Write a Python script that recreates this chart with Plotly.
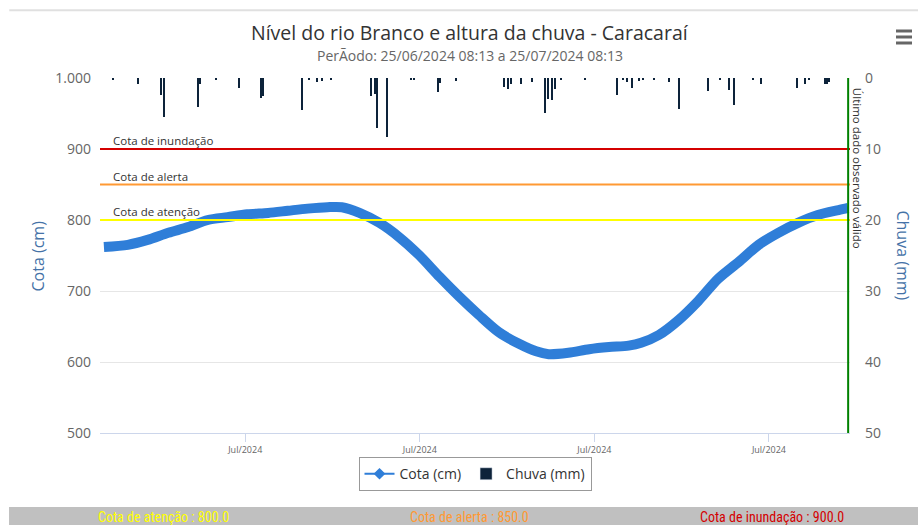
import plotly.graph_objects as go

# ---------------- data ----------------
cota_times = [
    "2024-06-25 12:00", "2024-06-26 11:00", "2024-06-27 06:00", "2024-06-28 02:00",
    "2024-06-28 21:00", "2024-06-29 16:00", "2024-06-30 11:00", "2024-07-01 06:00",
    "2024-07-02 02:00", "2024-07-02 21:00", "2024-07-03 16:00", "2024-07-04 11:00",
    "2024-07-05 01:00", "2024-07-05 18:00", "2024-07-06 13:00", "2024-07-07 08:00",
    "2024-07-08 03:00", "2024-07-08 23:00", "2024-07-09 18:00", "2024-07-10 13:00",
    "2024-07-11 08:00", "2024-07-12 03:00", "2024-07-12 20:00", "2024-07-13 08:00",
    "2024-07-14 03:00", "2024-07-14 23:00", "2024-07-15 18:00", "2024-07-16 13:00",
    "2024-07-17 01:00", "2024-07-17 18:00", "2024-07-18 13:00", "2024-07-19 08:00",
    "2024-07-20 03:00", "2024-07-20 23:00", "2024-07-21 18:00", "2024-07-22 13:00",
    "2024-07-23 08:00", "2024-07-24 03:00", "2024-07-24 23:00", "2024-07-25 08:13",
]
cota_values = [
    762, 765, 772, 782, 790, 800, 804, 808, 810, 813, 816, 818, 818, 810, 796, 776,
    751, 720, 692, 666, 642, 626, 615, 611, 613, 618, 621, 623, 627, 638, 659, 686,
    717, 741, 765, 782, 796, 807, 814, 817,
]

chuva_times = [
    "2024-06-25 21:00", "2024-06-26 21:00", "2024-06-27 19:00", "2024-06-27 22:00",
    "2024-06-29 07:00", "2024-06-29 09:00", "2024-06-30 00:00", "2024-06-30 22:00",
    "2024-07-01 19:00", "2024-07-01 21:00", "2024-07-03 11:00", "2024-07-03 18:00",
    "2024-07-04 01:00", "2024-07-04 06:00", "2024-07-04 15:00", "2024-07-06 05:00",
    "2024-07-06 09:00", "2024-07-06 11:00", "2024-07-06 21:00", "2024-07-07 20:00",
    "2024-07-07 23:00", "2024-07-08 22:00", "2024-07-09 00:00", "2024-07-09 15:00",
    "2024-07-11 13:00", "2024-07-11 17:00", "2024-07-11 20:00", "2024-07-12 06:00",
    "2024-07-12 16:00", "2024-07-13 05:00", "2024-07-13 08:00", "2024-07-13 11:00",
    "2024-07-13 14:00", "2024-07-13 20:00", "2024-07-14 19:00", "2024-07-16 02:00",
    "2024-07-16 08:00", "2024-07-16 12:00", "2024-07-16 16:00", "2024-07-16 23:00",
    "2024-07-17 03:00", "2024-07-17 14:00", "2024-07-18 04:00", "2024-07-18 14:00",
    "2024-07-19 18:00", "2024-07-20 05:00", "2024-07-20 14:00", "2024-07-20 19:00",
    "2024-07-21 13:00", "2024-07-21 21:00", "2024-07-23 07:00", "2024-07-23 15:00",
    "2024-07-23 19:00", "2024-07-24 10:00", "2024-07-24 12:00", "2024-07-24 14:00",
]
chuva_values = [
    0.3, 0.8, 2.4, 5.5, 4.1, 0.8, 0.3, 1.4, 2.8, 2.6, 4.5, 0.3, 0.5, 0.4, 0.2, 2.5,
    2.2, 7.1, 8.3, 0.3, 0.3, 2.0, 0.7, 0.4, 1.3, 1.5, 0.8, 0.8, 0.6, 4.9, 3.0, 3.1,
    1.5, 0.2, 0.3, 2.4, 0.3, 0.5, 1.4, 0.4, 0.3, 0.2, 0.6, 4.4, 1.8, 0.3, 1.7, 3.8,
    0.2, 0.8, 1.4, 0.8, 0.3, 0.9, 0.9, 0.6,
]

period_start = "2024-06-25 08:13"
period_end = "2024-07-25 08:13"
axis_end = "2024-07-25 10:00"
x_tick_vals = ["2024-07-01 04:00", "2024-07-08 04:00", "2024-07-15 04:00", "2024-07-22 04:00"]
x_tick_text = ["Jul/2024"] * 4
cota_tick_vals = [500, 600, 700, 800, 900, 1000]
cota_tick_text = ["500", "600", "700", "800", "900", "1.000"]
chuva_tick_vals = [0, 10, 20, 30, 40, 50]

thresholds = [
    ("Cota de inundação", 900, "#d40000"),
    ("Cota de alerta", 850, "#ff9933"),
    ("Cota de atenção", 800, "#ffff00"),
]
footer = [
    ("Cota de atenção : 800.0", "#ffff00", 0.084),
    ("Cota de alerta : 850.0", "#ff9933", 0.492),
    ("Cota de inundação : 900.0", "#d40000", 0.896),
]

FONT = "Open Sans, Liberation Sans, sans-serif"
NARROW = "Liberation Sans Narrow, Roboto Condensed, Roboto, sans-serif"

fig = go.Figure()

fig.add_trace(go.Bar(
    x=chuva_times, y=chuva_values, yaxis="y2", name="Chuva (mm)",
    marker=dict(color="#0d233a", line=dict(width=0)), width=5.0e6,
    showlegend=False,
))
fig.add_trace(go.Scatter(
    x=cota_times, y=cota_values, mode="lines", name="Cota (cm)",
    line=dict(color="#2f7ed8", width=10, shape="spline", smoothing=0.8),
    showlegend=False,
))
# legend entries
fig.add_trace(go.Scatter(
    x=[None], y=[None], mode="lines+markers", name="Cota (cm)",
    line=dict(color="#2f7ed8", width=2), marker=dict(color="#2f7ed8", size=9, symbol="diamond"),
))
fig.add_trace(go.Bar(
    x=[None], y=[None], name="Chuva (mm)", yaxis="y2",
    marker=dict(color="#0d233a"),
))

shapes = []
annotations = []
for label, val, color in thresholds:
    shapes.append(dict(type="line", xref="paper", yref="y", x0=0, x1=1, y0=val, y1=val,
                       line=dict(color=color, width=2), layer="above"))
    annotations.append(dict(text=label, xref="paper", yref="y", x=0.014, y=val,
                            xanchor="left", yanchor="bottom", showarrow=False, yshift=-1,
                            font=dict(family=FONT, size=11.5, color="#333")))

# last valid observation line
shapes.append(dict(type="line", xref="x", yref="paper", x0=period_end, x1=period_end,
                   y0=0, y1=1, line=dict(color="#008000", width=2), layer="above"))
annotations.append(dict(text="Último dado observado válido", xref="x", yref="paper",
                        x=period_end, y=0.745, xanchor="left", yanchor="middle",
                        textangle=90, showarrow=False, xshift=0,
                        font=dict(family=FONT, size=11.5, color="#333")))

# title / subtitle
annotations.append(dict(text="Nível do rio Branco e altura da chuva - Caracaraí",
                        xref="paper", yref="paper", x=0.493, y=1.128, showarrow=False,
                        xanchor="center", yanchor="middle",
                        font=dict(family=FONT, size=19.5, color="#333")))
annotations.append(dict(text="PerÃodo: 25/06/2024 08:13 a 25/07/2024 08:13",
                        xref="paper", yref="paper", x=0.493, y=1.063, showarrow=False,
                        xanchor="center", yanchor="middle",
                        font=dict(family=FONT, size=14, color="#666")))

# axis titles
annotations.append(dict(text="Cota (cm)", xref="paper", yref="paper", x=-0.084, y=0.5,
                        textangle=-90, showarrow=False, xanchor="center", yanchor="middle",
                        font=dict(family=FONT, size=16, color="#4572a7")))
annotations.append(dict(text="Chuva (mm)", xref="paper", yref="paper", x=1.0707, y=0.5,
                        textangle=90, showarrow=False, xanchor="center", yanchor="middle",
                        font=dict(family=FONT, size=16, color="#4572a7")))

# top separator + menu icon
shapes.append(dict(type="line", xref="paper", yref="paper", x0=-0.121, x1=1.091,
                   y0=1.191, y1=1.191, line=dict(color="#e0e0e0", width=2)))
for yy in (1.1324, 1.1155, 1.0986):
    shapes.append(dict(type="line", xref="paper", yref="paper", x0=1.0613, x1=1.0827,
                       y0=yy, y1=yy, line=dict(color="#666", width=3)))

# footer band
shapes.append(dict(type="rect", xref="paper", yref="paper", x0=-0.1213, x1=1.0907,
                   y0=-0.2085, y1=-0.27, fillcolor="#c0c0c0", line=dict(width=0),
                   layer="below"))
for text, color, xp in footer:
    annotations.append(dict(text=text, xref="paper", yref="paper", x=xp, y=-0.2366,
                            showarrow=False, xanchor="center", yanchor="middle",
                            font=dict(family=NARROW, size=14, color=color)))

fig.update_layout(
    width=918, height=525,
    margin=dict(l=100, r=68, t=78, b=92),
    paper_bgcolor="white", plot_bgcolor="white",
    font=dict(family=FONT, color="#666"),
    bargap=0,
    xaxis=dict(
        type="date", range=[period_start, axis_end],
        tickvals=x_tick_vals, ticktext=x_tick_text,
        showgrid=False, showline=True, linecolor="#ccd6eb", linewidth=1,
        ticks="outside", ticklen=8, tickcolor="#ccd6eb",
        tickfont=dict(size=9, color="#666"), zeroline=False,
    ),
    yaxis=dict(
        range=[500, 1000], tickvals=cota_tick_vals, ticktext=cota_tick_text,
        showgrid=True, gridcolor="#e6e6e6", gridwidth=1, zeroline=False,
        tickfont=dict(size=14, color="#666"), ticks="", ticklabelstandoff=8,
    ),
    yaxis2=dict(
        range=[50, 0], overlaying="y", side="right", tickvals=chuva_tick_vals,
        showgrid=False, zeroline=False, tickfont=dict(size=14, color="#666"),
        ticks="", ticklabelstandoff=14,
    ),
    legend=dict(
        orientation="h", x=0.5, xanchor="center", y=-0.068, yanchor="top",
        bordercolor="#999", borderwidth=1, bgcolor="white",
        font=dict(family=FONT, size=14, color="#333"),
        itemwidth=30,
    ),
    shapes=shapes, annotations=annotations,
)

fig.write_html(
    "out.html",
    config={"displayModeBar": False},
    post_script="document.body.style.margin='0';document.body.style.overflow='hidden';",
)
